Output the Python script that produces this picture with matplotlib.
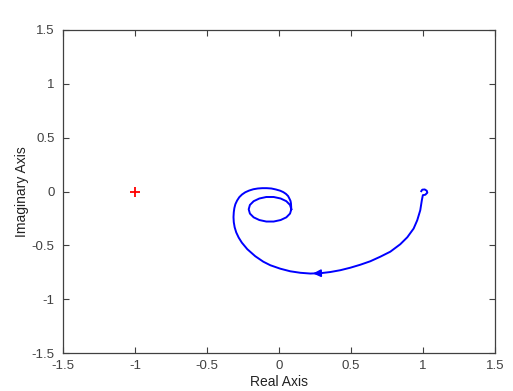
import matplotlib
matplotlib.use("Agg")
import matplotlib.pyplot as plt
import numpy as np

# Nyquist curve (real, imaginary)
re_vals = [0.988, 0.995, 1.012, 1.026, 1.030, 1.016, 0.999, 0.992, 0.981, 0.960,
           0.935, 0.891, 0.842, 0.773, 0.703, 0.634, 0.565, 0.495, 0.426, 0.356,
           0.287, 0.217, 0.148, 0.078, 0.009, -0.060, -0.109, -0.165, -0.220, -0.258,
           -0.280, -0.297, -0.308, -0.314, -0.316, -0.314, -0.310, -0.303, -0.291, -0.276,
           -0.257, -0.234, -0.207, -0.178, -0.147, -0.116, -0.085, -0.053, -0.022, 0.009,
           0.030, 0.048, 0.063, 0.072, 0.080, 0.083, 0.0855,
           0.0766, 0.051, 0.0115, -0.037, -0.088, -0.1365, -0.176, -0.202, -0.2105,
           -0.202, -0.176, -0.1365, -0.088, -0.037, 0.0115, 0.051, 0.0766, 0.0855]
im_vals = [0.003, 0.017, 0.019, 0.007, -0.011, -0.030, -0.034, -0.081, -0.174, -0.267,
           -0.344, -0.425, -0.490, -0.559, -0.606, -0.648, -0.680, -0.708, -0.731, -0.748,
           -0.759, -0.762, -0.755, -0.741, -0.717, -0.685, -0.652, -0.601, -0.536, -0.475,
           -0.428, -0.380, -0.332, -0.285, -0.238, -0.192, -0.154, -0.118, -0.084, -0.053,
           -0.028, -0.007, 0.009, 0.021, 0.028, 0.031, 0.031, 0.028, 0.019, 0.007,
           -0.006, -0.022, -0.042, -0.065, -0.088, -0.110, -0.165,
           -0.205, -0.240, -0.265, -0.279, -0.279, -0.265, -0.240, -0.205, -0.165,
           -0.125, -0.090, -0.065, -0.051, -0.051, -0.065, -0.090, -0.125, -0.165]
arrow_idx = 20  # arrow between point 20 and 21

crit_re = [-1]
crit_im = [0]

ticks = [-1.5, -1, -0.5, 0, 0.5, 1, 1.5]
tick_labels = ['-1.5', '-1', '-0.5', '0', '0.5', '1', '1.5']

plt.rcParams['font.family'] = ['Liberation Sans', 'DejaVu Sans']
axcol = '#404040'

fig = plt.figure(figsize=(5.13, 3.91), dpi=100)
ax = fig.add_axes([63/513, 1-353/391, 432/513, 323/391])

ax.plot(re_vals, im_vals, color='#0000ff', lw=1.4)
ax.annotate('', xy=(re_vals[arrow_idx+1], im_vals[arrow_idx+1]),
            xytext=(re_vals[arrow_idx], im_vals[arrow_idx]),
            arrowprops=dict(arrowstyle='-|>,head_length=0.45,head_width=0.22',
                            color='#0000ff', lw=1.2))
ax.plot(crit_re, crit_im, '+', color='red', ms=7, mew=1.3)

ax.set_xlim(-1.5, 1.5)
ax.set_ylim(-1.5, 1.5)
ax.set_xticks(ticks)
ax.set_xticklabels(tick_labels)
ax.set_yticks(ticks)
ax.set_yticklabels(tick_labels)
ax.tick_params(direction='in', length=4, width=0.8, top=True, right=True,
               colors=axcol, labelsize=9.5)
ax.tick_params(axis='x', pad=5)
ax.tick_params(axis='y', pad=6)
for s in ax.spines.values():
    s.set_color(axcol)
    s.set_linewidth(0.9)

ax.set_xlabel('Real Axis', fontsize=10, color='#222222', labelpad=2)
ax.set_ylabel('Imaginary Axis', fontsize=10, color='#222222', labelpad=2)

fig.savefig('out.png', dpi=100)
